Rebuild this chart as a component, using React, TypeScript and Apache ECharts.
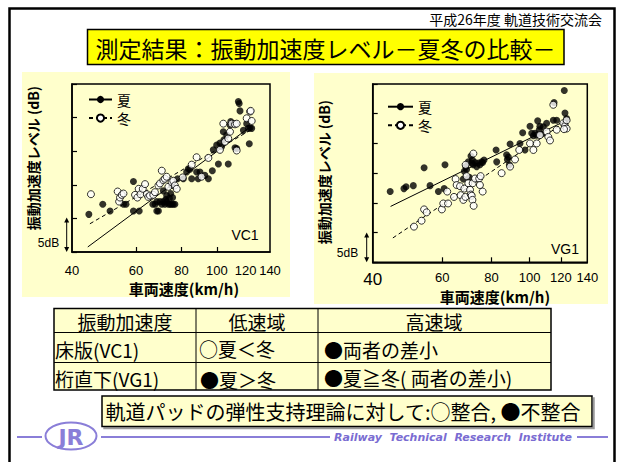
import React, { useEffect, useRef } from 'react';
import * as echarts from 'echarts';

// ---- data (speed km/h, vibration acceleration level dB relative to axis bottom) ----
const xLabelValues = [40, 60, 80, 100, 120, 140];
const vc1TickValues = [60, 80, 100];
const vg1TickValues = [60, 80, 100, 120];

const vc1Summer: number[][] = [
  [44.5, 5.6], [48.6, 7.1], [50.9, 6.1], [55.4, 7.1], [56.3, 7.1], [59.0, 10.5], [59.0, 6.1], [61.2, 6.1],
  [66.7, 7.1], [67.7, 7.1], [68.4, 6.1], [69.1, 6.1], [68.4, 7.5], [69.8, 7.5], [70.6, 7.1], [71.3, 7.5],
  [72.0, 7.1], [72.8, 7.5], [73.6, 7.1], [74.4, 7.1], [75.1, 7.1], [75.9, 7.1], [76.7, 7.1], [72.4, 7.8],
  [74.1, 8.0], [74.7, 8.7], [75.6, 8.1], [72.8, 8.4], [71.3, 9.1], [75.1, 9.9], [78.0, 10.9], [80.9, 10.9],
  [82.6, 11.9], [83.5, 12.4], [84.4, 12.3], [85.3, 10.9], [88.0, 11.9], [88.9, 10.9], [89.9, 11.9], [92.7, 11.4],
  [94.8, 10.9], [97.2, 12.1], [97.8, 15.2], [99.9, 15.9], [101.0, 13.1], [102.0, 16.2], [103.1, 15.7], [104.2, 17.9],
  [104.6, 16.7], [106.4, 17.4], [107.5, 13.1], [108.7, 18.9], [109.2, 19.4], [111.0, 19.1], [112.2, 15.5], [113.4, 15.4],
  [114.6, 22.4], [115.2, 22.1], [115.8, 21.0], [118.3, 18.1], [120.8, 19.1], [122.1, 18.4], [122.8, 16.1], [123.4, 18.5],
  [124.7, 18.4]
];
const vc1Winter: number[][] = [
  [45.1, 8.6], [53.4, 9.0], [53.9, 7.5], [54.2, 8.1], [54.8, 8.5], [55.4, 8.7], [59.6, 8.5], [60.5, 8.1],
  [61.0, 9.4], [61.7, 8.6], [62.6, 9.4], [63.5, 10.1], [64.2, 8.6], [64.8, 8.2], [65.5, 8.4], [66.9, 8.5],
  [67.6, 8.9], [69.1, 9.9], [69.8, 10.2], [70.6, 12.1], [71.3, 10.7], [72.0, 10.9], [72.8, 11.2], [73.6, 9.7],
  [75.1, 10.4], [75.9, 10.6], [76.7, 9.9], [77.6, 9.4], [80.6, 11.1], [85.3, 13.0], [88.0, 14.1], [90.8, 11.2],
  [94.8, 14.0], [102.0, 15.2], [104.2, 19.1], [105.3, 16.4], [107.5, 16.9], [108.7, 17.9], [109.8, 19.1], [112.2, 19.0],
  [113.4, 19.1], [113.4, 15.1], [120.8, 19.9], [123.4, 20.9], [124.7, 19.5], [123.9, 21.0]
];
const vc1SummerFit: number[][] = [[44.2, 0.75], [123.4, 18.6]];
const vc1WinterFit: number[][] = [[44.8, 4.2], [123.4, 18.1]];

const vg1Summer: number[][] = [
  [44.3, 11.9], [48.0, 12.4], [48.6, 12.7], [50.7, 12.9], [54.0, 15.9], [55.9, 12.9], [58.7, 11.9], [60.7, 12.4],
  [61.0, 16.4], [67.9, 14.0], [68.3, 15.3], [68.8, 16.1], [69.2, 15.6], [69.9, 16.9], [70.3, 14.3], [71.0, 17.9],
  [71.3, 16.7], [71.6, 17.2], [72.0, 16.4], [72.7, 16.8], [73.4, 16.1], [74.1, 16.7], [74.8, 16.4], [75.6, 16.9],
  [76.0, 16.8], [76.6, 17.2], [82.2, 18.9], [82.5, 16.9], [87.4, 18.1], [87.8, 17.3], [88.3, 17.7], [88.8, 16.4],
  [89.2, 19.9], [94.5, 20.0], [96.0, 21.8], [97.3, 18.9], [100.2, 22.9], [101.2, 21.7], [102.2, 21.3], [103.2, 21.7],
  [104.2, 21.4], [104.8, 23.8], [105.8, 22.3], [106.2, 22.9], [107.3, 21.6], [108.3, 22.8], [110.4, 23.4], [114.8, 23.9],
  [115.3, 26.9], [117.1, 23.9], [122.4, 28.9], [122.9, 25.1], [124.1, 24.2], [122.9, 23.4]
];
const vg1Winter: number[][] = [
  [50.9, 6.0], [53.2, 7.0], [54.0, 8.9], [54.8, 8.4], [59.9, 8.9], [60.4, 9.9], [62.1, 9.9], [61.8, 11.9],
  [64.3, 11.0], [64.9, 14.0], [65.3, 13.0], [66.6, 12.8], [66.8, 11.3], [67.9, 10.5], [68.3, 12.4], [68.7, 11.0],
  [68.8, 16.4], [69.2, 14.5], [69.9, 13.3], [70.6, 12.2], [70.9, 11.4], [71.3, 11.2], [71.6, 10.5], [71.7, 13.3],
  [72.0, 18.3], [72.1, 9.5], [72.7, 14.1], [74.5, 14.1], [74.8, 13.0], [75.1, 14.5], [76.0, 11.9], [84.9, 15.0],
  [89.2, 16.1], [91.8, 17.3], [94.1, 18.9], [100.2, 20.0], [102.2, 18.9], [104.2, 20.0], [106.2, 21.4], [110.4, 22.0],
  [111.5, 21.1], [112.6, 20.5], [117.1, 22.3], [114.8, 26.5], [121.7, 23.4], [122.9, 22.9], [124.1, 23.9], [124.1, 22.5],
  [122.2, 22.4]
];
const vg1SummerFit: number[][] = [[44.4, 9.4], [124.1, 23.9]];
const vg1WinterFit: number[][] = [[45.0, 4.1], [121.7, 23.4]];

const CJK = "'Noto Sans CJK JP', sans-serif";
const LAT = "'Liberation Sans', 'Noto Sans CJK JP', sans-serif";
const PANEL = '#FFFFCC';
const PURPLE = '#8A7ED8';

function xAxis(gridIndex: number, ticks: number[], margin: number, namePad: number, nameGap: number, big40: boolean) {
  return {
    type: 'log', logBase: 10, gridIndex, min: 40, max: 140,
    axisLine: { lineStyle: { color: '#000', width: 1.5 } },
    axisTick: { inside: true, length: 5, customValues: ticks, lineStyle: { color: '#000', width: 1.2 } },
    axisLabel: {
      customValues: xLabelValues, margin, color: '#000', fontSize: 13, lineHeight: 13, fontFamily: LAT,
      formatter: (v: number) => (big40 && Math.round(v) === 40 ? '{big|40}' : String(Math.round(v))),
      rich: { big: { fontSize: 17, lineHeight: 17, fontFamily: LAT, color: '#000' } }
    },
    splitLine: { show: false }, minorTick: { show: false },
    name: '車両速度(km/h)', nameLocation: 'middle', nameGap,
    nameTextStyle: { fontSize: 15, lineHeight: 15, fontWeight: 'bold', color: '#000', fontFamily: CJK, padding: [0, 0, 0, namePad] }
  };
}
function yAxis(gridIndex: number, max: number, nameGap: number, namePad: number) {
  return {
    type: 'value', gridIndex, min: 0, max, interval: 5,
    axisLine: { lineStyle: { color: '#000', width: 1.5 } },
    axisTick: { inside: true, length: 5, lineStyle: { color: '#000', width: 1.2 } },
    axisLabel: { show: false }, splitLine: { show: false },
    name: '振動加速度レベル (dB)', nameLocation: 'middle', nameGap,
    nameTextStyle: { fontSize: 14, fontWeight: 'bold', color: '#000', fontFamily: CJK, padding: [0, 0, 0, namePad] }
  };
}
function seriesFor(idx: number, summer: number[][], winter: number[][], sFit: number[][], wFit: number[][]) {
  return [
    { name: '夏', type: 'line', xAxisIndex: idx, yAxisIndex: idx, data: sFit, symbol: 'circle', symbolSize: 7, showSymbol: false,
      lineStyle: { color: '#000', width: 1 }, itemStyle: { color: '#000' }, silent: true, z: 3 },
    { name: '冬', type: 'line', xAxisIndex: idx, yAxisIndex: idx, data: wFit, symbol: 'circle', symbolSize: 7, showSymbol: false,
      lineStyle: { color: '#000', width: 1, type: [4, 3] }, itemStyle: { color: '#fff', borderColor: '#000', borderWidth: 1 }, silent: true, z: 3 },
    { name: '夏データ' + idx, type: 'scatter', xAxisIndex: idx, yAxisIndex: idx, data: summer, symbol: 'circle', symbolSize: 7,
      itemStyle: { color: '#000' }, z: 4 },
    { name: '冬データ' + idx, type: 'scatter', xAxisIndex: idx, yAxisIndex: idx, data: winter, symbol: 'circle', symbolSize: 7,
      itemStyle: { color: '#fff', borderColor: '#000', borderWidth: 1 }, z: 5 }
  ];
}

function arrow(x: number, y1: number, y2: number) {
  return [
    { type: 'line', shape: { x1: x, y1: y1 + 3, x2: x, y2: y2 - 3 }, style: { stroke: '#000', lineWidth: 1 } },
    { type: 'polygon', shape: { points: [[x, y1], [x - 2.5, y1 + 5], [x + 2.5, y1 + 5]] }, style: { fill: '#000' } },
    { type: 'polygon', shape: { points: [[x, y2], [x - 2.5, y2 - 5], [x + 2.5, y2 - 5]] }, style: { fill: '#000' } }
  ];
}
function txt(x: number, y: number, text: string, fontSize: number, opts: any = {}) {
  return {
    type: 'text', x, y, z: 10,
    style: { text, fontSize, fill: '#000', fontFamily: CJK, align: 'left', verticalAlign: 'middle', ...opts }
  };
}

export default function App() {
  const ref = useRef<HTMLDivElement>(null);
  useEffect(() => {
    const chart = echarts.init(ref.current!, null, { renderer: 'svg' });
    const graphic: any[] = [
      // panels
      { type: 'rect', z: -10, shape: { x: 22, y: 72, width: 268, height: 225 }, style: { fill: PANEL } },
      { type: 'rect', z: -10, shape: { x: 314, y: 73, width: 294, height: 231 }, style: { fill: PANEL } },
      // frame
      { type: 'rect', shape: { x: 9.5, y: 8.5, width: 605, height: 470 }, style: { fill: 'none', stroke: '#000', lineWidth: 2.5 } },
      txt(602, 19, '平成26年度 軌道技術交流会', 14, { align: 'right' }),
      // title
      { type: 'rect', shape: { x: 87.5, y: 29.5, width: 476.5, height: 35 }, style: { fill: '#FFFF00', stroke: '#000', lineWidth: 1.5 } },
      txt(325.5, 48, '測定結果：振動加速度レベル－夏冬の比較－', 23, { align: 'center' }),
      // chart annotations
      txt(245, 235, 'VC1', 14, { align: 'center', fontFamily: LAT }),
      txt(565, 249, 'VG1', 14, { align: 'center', fontFamily: LAT }),
      txt(48.5, 243, '5dB', 12, { align: 'center', fontFamily: LAT }),
      txt(347.5, 253, '5dB', 12, { align: 'center', fontFamily: LAT }),
      ...arrow(66.7, 217.5, 252),
      ...arrow(366.7, 232.5, 262.3),
      // table
      { type: 'rect', shape: { x: 54, y: 308.5, width: 497, height: 81.5 }, style: { fill: PANEL, stroke: '#000', lineWidth: 1.5 } },
      { type: 'line', shape: { x1: 54, y1: 332.5, x2: 551, y2: 332.5 }, style: { stroke: '#000', lineWidth: 1 } },
      { type: 'line', shape: { x1: 54, y1: 362.5, x2: 551, y2: 362.5 }, style: { stroke: '#000', lineWidth: 1 } },
      { type: 'line', shape: { x1: 196, y1: 308.5, x2: 196, y2: 390 }, style: { stroke: '#000', lineWidth: 1 } },
      { type: 'line', shape: { x1: 318, y1: 308.5, x2: 318, y2: 390 }, style: { stroke: '#000', lineWidth: 1 } },
      txt(125, 321, '振動加速度', 19, { align: 'center' }),
      txt(257, 321, '低速域', 19, { align: 'center' }),
      txt(434, 321, '高速域', 19, { align: 'center' }),
      txt(55, 349, '床版(VC1)', 19),
      txt(199, 348, '○夏＜冬', 19),
      txt(324, 349, '●両者の差小', 19),
      txt(55, 378.5, '桁直下(VG1)', 19),
      txt(200, 379, '●夏＞冬', 19),
      txt(324, 377, '●夏≧冬( 両者の差小)', 19),
      // conclusion box
      { type: 'rect', shape: { x: 102, y: 396, width: 490, height: 30.5 },
        style: { fill: PANEL, stroke: '#000', lineWidth: 1.5, shadowColor: '#9a9a9a', shadowOffsetX: 2, shadowOffsetY: 2, shadowBlur: 0 } },
      txt(343, 411, '軌道パッドの弾性支持理論に対して:○整合, ●不整合', 20, { align: 'center' }),
      // footer
      { type: 'line', shape: { x1: 17, y1: 437, x2: 42, y2: 437 }, style: { stroke: PURPLE, lineWidth: 2 } },
      { type: 'line', shape: { x1: 101, y1: 437, x2: 330, y2: 437 }, style: { stroke: PURPLE, lineWidth: 2 } },
      { type: 'line', shape: { x1: 577, y1: 437, x2: 608, y2: 437 }, style: { stroke: PURPLE, lineWidth: 2 } },
      { type: 'ellipse', shape: { cx: 71, cy: 436, rx: 25.5, ry: 13.5 }, style: { fill: '#fff', stroke: PURPLE, lineWidth: 2 } },
      { type: 'text', x: 71, y: 437, z: 10, style: { text: 'JR', fontSize: 22, fontWeight: 900, fontStyle: 'normal', fill: PURPLE,
        fontFamily: "'DejaVu Sans', sans-serif", align: 'center', verticalAlign: 'middle' } },
      { type: 'text', x: 453, y: 437, z: 10, style: { text: 'Railway  Technical  Research  Institute', fontSize: 11, fontWeight: 'bold',
        fontStyle: 'italic', fill: '#7A6CD2', fontFamily: "'DejaVu Sans', sans-serif", align: 'center', verticalAlign: 'middle' } }
    ];

    chart.setOption({
      animation: false,
      backgroundColor: '#fff',
      textStyle: { fontFamily: LAT },
      grid: [
        { left: 72, top: 84, width: 198, height: 168, show: true, borderColor: '#000', borderWidth: 1.5, backgroundColor: 'transparent' },
        { left: 372.7, top: 84, width: 214.6, height: 178.3, show: true, borderColor: '#000', borderWidth: 1.5, backgroundColor: 'transparent' }
      ],
      xAxis: [
        xAxis(0, vc1TickValues, 12, 26, 29, false),
        xAxis(1, vg1TickValues, 9, 30, 23.5, true)
      ],
      yAxis: [yAxis(0, 25, 32, 20), yAxis(1, 30, 42, 2)],
      legend: [
        { data: ['夏', '冬'], orient: 'vertical', left: 83, top: 87.5, itemWidth: 23, itemHeight: 9, itemGap: 4.6,
          textStyle: { fontSize: 14, lineHeight: 14, color: '#000', fontFamily: CJK }, selectedMode: false },
        { data: ['夏', '冬'], orient: 'vertical', left: 382, top: 94.7, itemWidth: 25, itemHeight: 9, itemGap: 4.6,
          textStyle: { fontSize: 14, lineHeight: 14, color: '#000', fontFamily: CJK }, selectedMode: false }
      ],
      series: [
        ...seriesFor(0, vc1Summer, vc1Winter, vc1SummerFit, vc1WinterFit),
        ...seriesFor(1, vg1Summer, vg1Winter, vg1SummerFit, vg1WinterFit)
      ],
      graphic
    });
    return () => chart.dispose();
  }, []);
  return <div ref={ref} style={{ position: 'fixed', left: 0, top: 0, width: 618, height: 462, background: '#fff' }} />;
}
